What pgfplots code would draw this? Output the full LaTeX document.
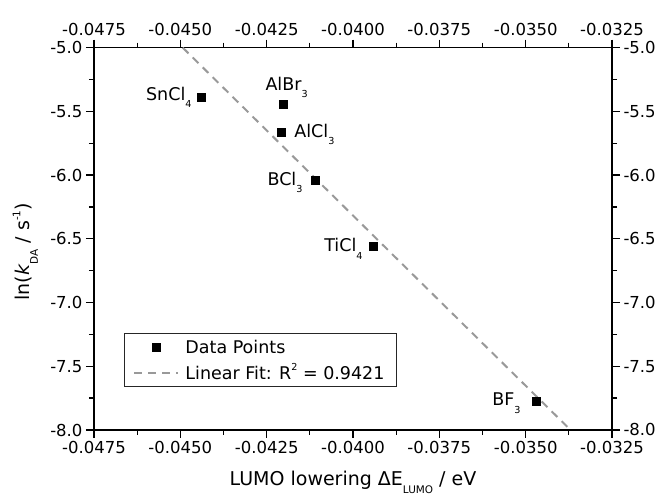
\documentclass[border=0pt]{standalone}
\usepackage{fontspec}
\setmainfont{DejaVu Sans}
\usepackage{graphicx}
\usepackage{pgfplots}
\pgfplotsset{compat=1.18}
\definecolor{fitgray}{HTML}{999999}
\newcommand\sub[1]{\raisebox{-0.42em}{\scalebox{0.55}{#1}}}
\newcommand\sups[1]{\raisebox{0.5em}{\scalebox{0.55}{#1}}}
\newcommand\ticksize{\fontsize{16.5}{19}\selectfont}
\newcommand\labsize{\fontsize{17.5}{20}\selectfont}
\pgfplotsset{myax/.style={
  scale only axis, width=518pt, height=382.3pt,
  xmin=-0.0475, xmax=-0.0325, ymin=-8, ymax=-5,
  xtick={-0.0475,-0.045,-0.0425,-0.04,-0.0375,-0.035,-0.0325},
  ytick={-8,-7.5,-7,-6.5,-6,-5.5,-5},
  minor x tick num=1, minor y tick num=1,
  tick align=outside,
  major tick length=8pt, minor tick length=5pt,
  axis line style={line width=1.3pt},
  every tick/.style={black, line width=1.3pt},
  tick label style={font=\ticksize},
  scaled x ticks=false, scaled y ticks=false,
  xticklabel={\pgfmathprintnumber[fixed, fixed zerofill, precision=4, assume math mode=true]{\tick}},
  yticklabel={\pgfmathprintnumber[fixed, fixed zerofill, precision=1, assume math mode=true]{\tick}},
}}
\pgfplotsset{
  markleg/.style={legend image code/.code={\path (0pt,0pt) (44pt,0pt); \draw[##1] plot[only marks] coordinates {(22pt,0pt)};}},
  lineleg/.style={legend image code/.code={\draw[##1] (0pt,0pt) -- (44pt,0pt);}},
}
\begin{document}
\begin{tikzpicture}
\begin{axis}[myax,
  xlabel={LUMO lowering ΔE\sub{LUMO} / eV},
  ylabel={ln(\textit{k}\sub{DA} / s\sups{-1})},
  xlabel style={font=\fontsize{19}{22}\selectfont, at={(axis description cs:0.5,0)}, anchor=base, yshift=-56pt},
  ylabel style={font=\fontsize{19}{22}\selectfont, at={([xshift=-64pt]axis description cs:0,0.466)}, anchor=base},
  legend style={at={(rel axis cs:0.058,0.1125)}, anchor=south west, draw=black!85, line width=0.8pt,
    font=\fontsize{17.5}{20}\selectfont, inner xsep=9pt, inner ysep=4pt, row sep=6.7pt, column sep=3pt,
    nodes={inner xsep=3pt, inner ysep=2pt, text height=14pt, text depth=1pt}},
  legend cell align=left,
]
\coordinate (bl) at (rel axis cs:0,0);
\coordinate (tr) at (rel axis cs:1,1);
\addplot[only marks, mark=square*, mark size=4.1pt, black, markleg]
  coordinates {(-0.0444,-5.39) (-0.04201,-5.444) (-0.04209,-5.664) (-0.0411,-6.040) (-0.03942,-6.556) (-0.0347,-7.771)};
\addlegendentry{Data Points}
\addplot[fitgray, line width=2pt, dash pattern=on 8pt off 6pt, lineleg]
  coordinates {(-0.04493,-5) (-0.0337,-8)};
\addlegendentry{Linear Fit: R\sups{2} = 0.9421}
\node[font=\labsize, anchor=base east, xshift=-6pt, yshift=-3pt] at (axis cs:-0.0444,-5.39) {SnCl\sub{4}};
\node[font=\labsize, anchor=base, xshift=3pt, yshift=14pt] at (axis cs:-0.04201,-5.444) {AlBr\sub{3}};
\node[font=\labsize, anchor=base west, xshift=10pt, yshift=-5pt] at (axis cs:-0.04209,-5.664) {AlCl\sub{3}};
\node[font=\labsize, anchor=base east, xshift=-9pt, yshift=-5pt] at (axis cs:-0.0411,-6.040) {BCl\sub{3}};
\node[font=\labsize, anchor=base east, xshift=-7pt, yshift=-6pt] at (axis cs:-0.03942,-6.556) {TiCl\sub{4}};
\node[font=\labsize, anchor=base east, xshift=-12pt, yshift=-5pt] at (axis cs:-0.0347,-7.771) {BF\sub{3}};
\end{axis}
\begin{axis}[myax,
  xticklabel pos=right, yticklabel pos=right,
  axis line style={draw=none}, every tick/.style={draw=none},
]
\addplot[draw=none] coordinates {(-0.04,-6)};
\end{axis}
\pgfresetboundingbox
\path[use as bounding box] ([shift={(-94pt,-66pt)}]bl) rectangle ([shift={(49pt,47.7pt)}]tr);
\end{tikzpicture}
\end{document}
